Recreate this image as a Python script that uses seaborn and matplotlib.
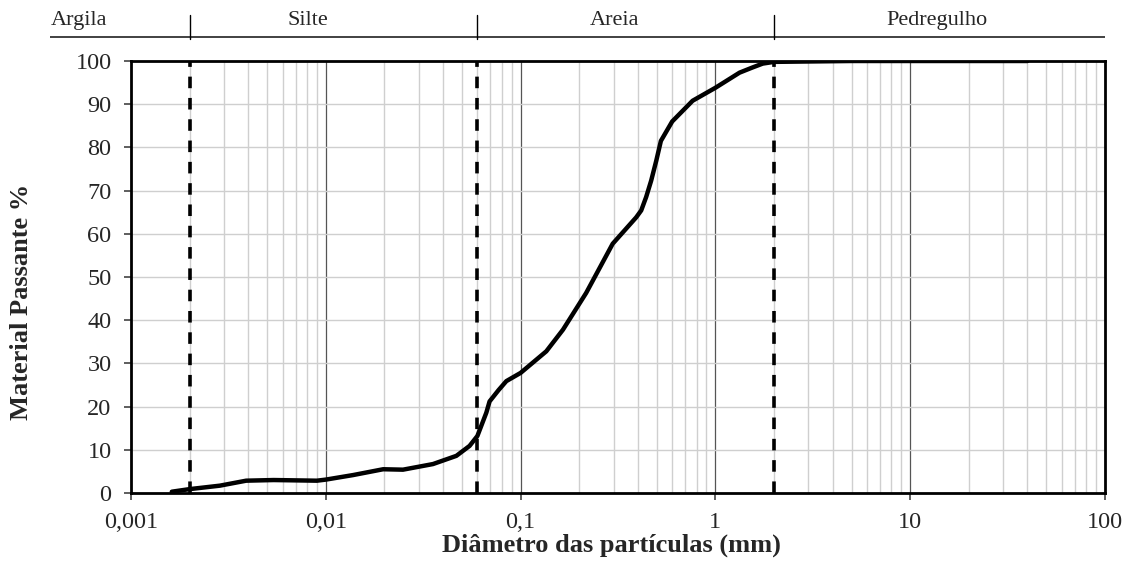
import numpy as np
import pandas as pd
import seaborn as sns
import matplotlib
matplotlib.use("Agg")
import matplotlib.pyplot as plt
from matplotlib.ticker import FixedLocator, NullFormatter

# curva granulometrica
diametro = [0.00162, 0.002, 0.00286, 0.0039, 0.0054, 0.009, 0.01, 0.0138,
            0.0197, 0.0249, 0.0355, 0.0468, 0.0547, 0.06, 0.0667, 0.0693,
            0.077, 0.0845, 0.1, 0.1355, 0.165, 0.217, 0.297, 0.392, 0.416,
            0.441, 0.468, 0.497, 0.525, 0.6, 0.764, 1.0, 1.33, 1.55, 1.75,
            2.0, 5.0, 40.0]
passante = [0.3, 0.9, 1.7, 2.85, 3.0, 2.85, 3.1, 4.15,
            5.5, 5.4, 6.7, 8.6, 10.9, 13.2, 18.6, 21.2,
            23.8, 25.9, 27.8, 32.8, 37.8, 46.3, 57.7, 63.8, 65.4,
            68.5, 72.3, 76.9, 81.5, 86.0, 90.8, 93.8, 97.3, 98.5, 99.4,
            99.8, 100.0, 100.0]

# limites das fracoes (mm)
limites = [0.002, 0.06, 2.0]
fracoes = ["Argila", "Silte", "Areia", "Pedregulho"]

x_ticks = [0.001, 0.01, 0.1, 1, 10, 100]
x_labels = ["0,001", "0,01", "0,1", "1", "10", "100"]
y_ticks = list(range(0, 101, 10))

sns.set_style("white")
plt.rcParams['font.family'] = ['Liberation Serif', 'DejaVu Serif']

df = pd.DataFrame({"Diametro": diametro, "Passante": passante})

W, H = 1130, 577
fig = plt.figure(figsize=(W / 100, H / 100), dpi=100)
ax = fig.add_axes([131 / W, 1 - 493 / H, (1105 - 131) / W, (493 - 61) / H])

ax.set_xscale("log")
ax.set_xlim(0.001, 100)
ax.set_ylim(0, 100)

# grade
minors = [m * 10.0 ** e for e in range(-3, 2) for m in range(2, 10)]
for v in minors:
    ax.axvline(v, color="#cfcfcf", lw=1.0, zorder=0)
for v in x_ticks[1:-1]:
    ax.axvline(v, color="#555555", lw=0.9, zorder=0)
for v in y_ticks[1:-1]:
    ax.axhline(v, color="#cfcfcf", lw=1.0, zorder=0)

for v in limites:
    ax.plot([v, v], [0, 100], color="black", lw=2.6, ls=(0, (3.2, 2.7)), zorder=2)

sns.lineplot(data=df, x="Diametro", y="Passante", color="black", lw=3.2,
             ax=ax, zorder=3)

ax.xaxis.set_major_locator(FixedLocator(x_ticks))
ax.set_xticklabels(x_labels)
ax.xaxis.set_minor_locator(FixedLocator(minors))
ax.xaxis.set_minor_formatter(NullFormatter())
ax.set_yticks(y_ticks)
ax.tick_params(axis="both", which="major", direction="out", length=5,
               width=1.1, color="#333333", labelsize=17.5, bottom=True, left=True)
ax.tick_params(axis="x", which="major", pad=9)
ax.tick_params(axis="y", which="major", pad=9)
ax.tick_params(axis="x", which="minor", length=0)

for s in ax.spines.values():
    s.set_visible(True)
    s.set_color("black")
    s.set_linewidth(2.0)

ax.set_xlabel("")
ax.set_ylabel("")
fig.text(611 / W, 1 - 552 / H, "Diâmetro das partículas (mm)", fontsize=19,
         fontweight="bold", ha="center", va="baseline")
fig.text(22 / W, 1 - 302 / H, "Material Passante %", fontsize=19,
         fontweight="bold", ha="center", va="center", rotation=90)

# faixa superior com as fracoes
left_px = 50
x0 = 10 ** (-3 - (131 - left_px) / ((1105 - 131) / 5))
axt = fig.add_axes([left_px / W, 1 - 45 / H, (1105 - left_px) / W, 40 / H])
axt.set_xscale("log")
axt.set_xlim(x0, 100)
axt.set_ylim(0, 1)
axt.axis("off")
axt.axhline(0.2, color="#333333", lw=1.3)
for v in limites:
    axt.plot([v, v], [0.15, 0.75], color="black", lw=1.0)

rotulo_x = [51, 308, 615, 937]
for nome, xp in zip(fracoes, rotulo_x):
    ha = "left" if nome == "Argila" else "center"
    fig.text(xp / W, 1 - 25 / H, nome, fontsize=16, ha=ha, va="baseline")

fig.savefig("out.png", dpi=100)
